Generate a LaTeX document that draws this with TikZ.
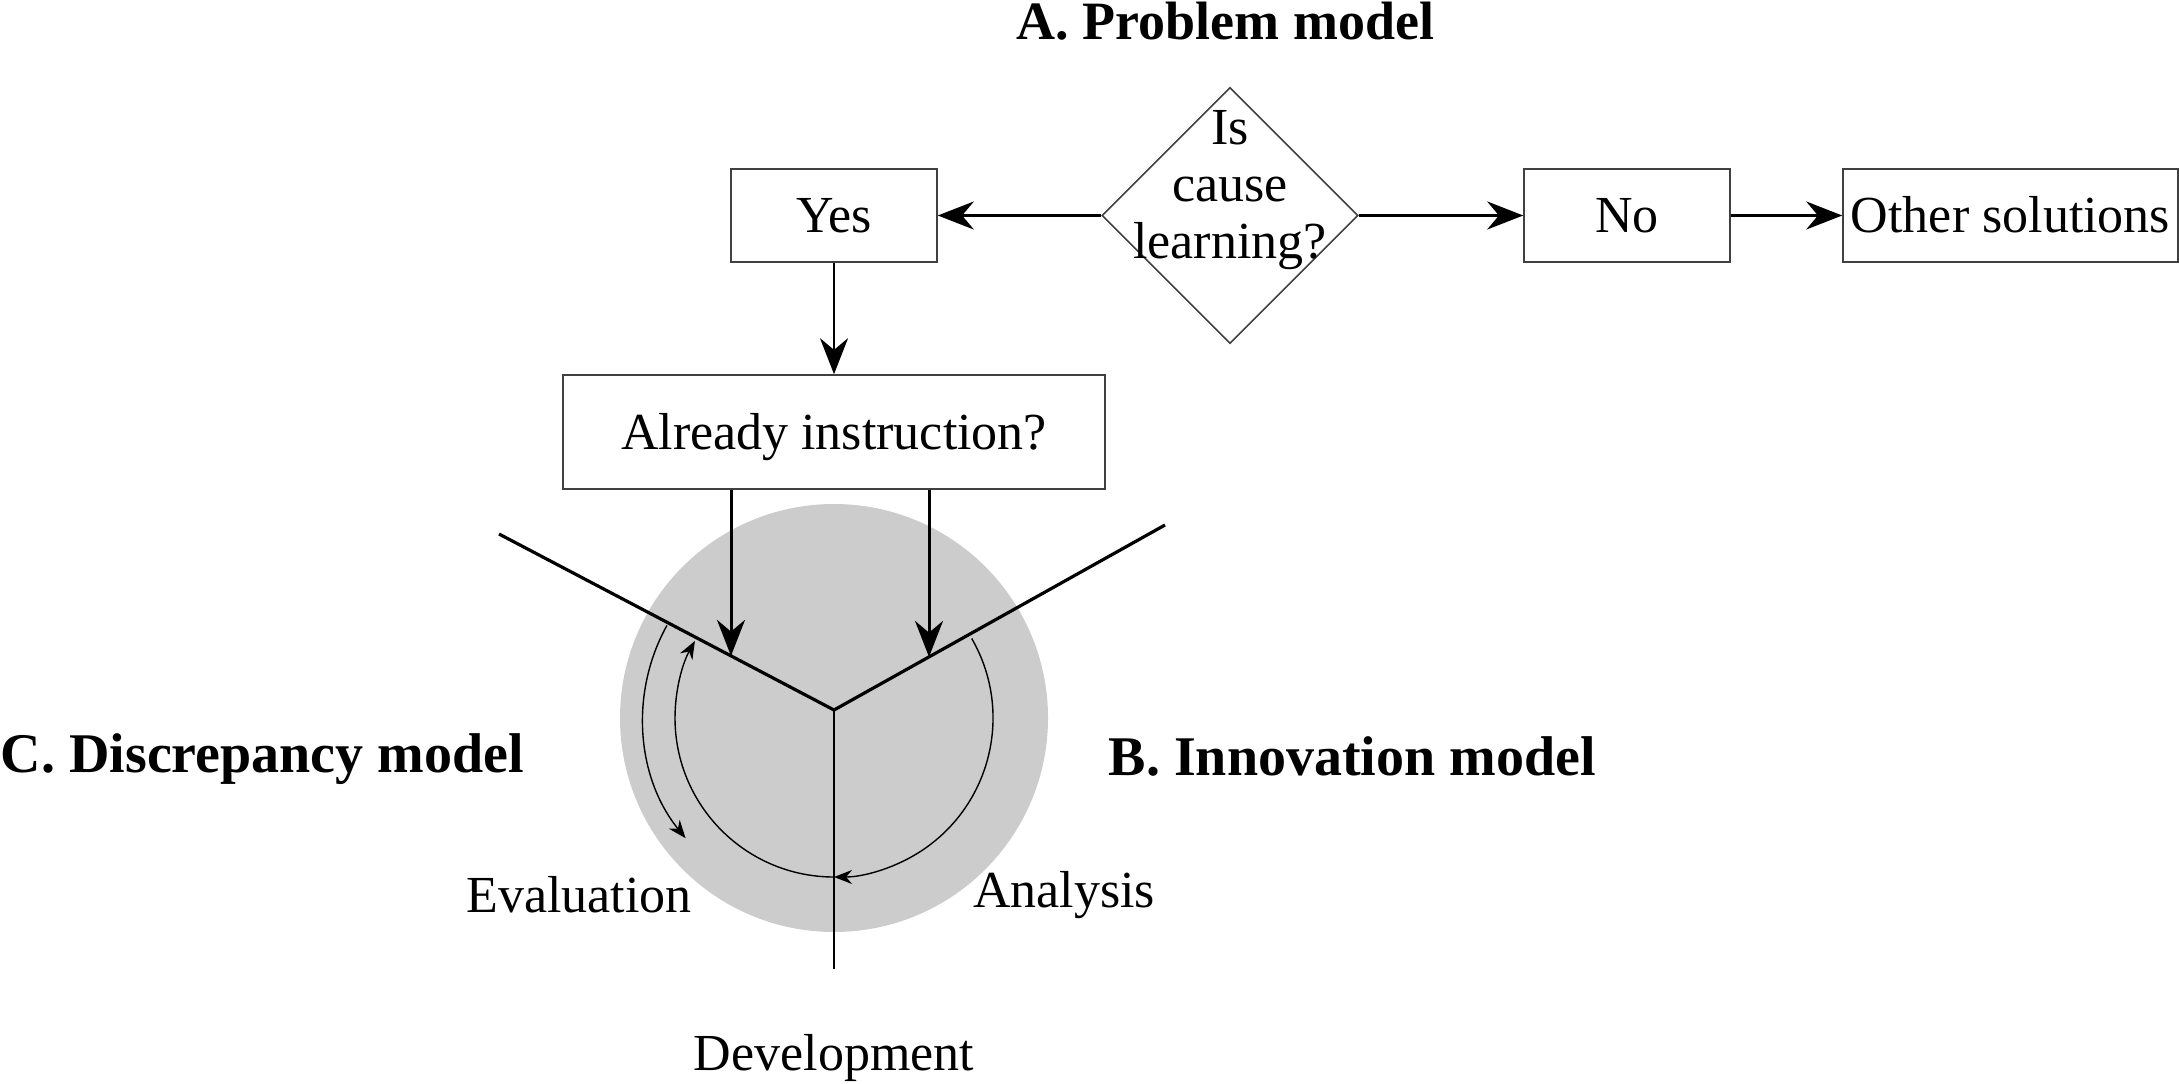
\documentclass[tikz,border=0pt]{standalone}
\usepackage{fontspec}
\setmainfont{Liberation Serif}
\usetikzlibrary{shapes.geometric,arrows.meta}

\begin{document}
\begin{tikzpicture}
[
x=0.25pt, y=0.25pt,
box/.style={draw=black!75, line width=0.4pt, minimum height=23.25pt, inner sep=0pt, text height=8.5pt, text depth=0pt, font=\fontsize{13}{15}\selectfont},
heading/.style={anchor=base west, inner sep=0pt, font=\fontsize{14}{16}\selectfont\bfseries},
phase/.style={anchor=base, inner sep=0pt, font=\fontsize{13}{15}\selectfont},
bigarrow/.style={-{Stealth[length=9pt, width=7pt]}, line width=0.75pt},
cyc/.style={-{Stealth[length=4.5pt, width=3.5pt]}, line width=0.35pt}
]
\tikzset{arm/.style={line width=0.8pt}}
\useasboundingbox (0,0) rectangle (2179,1083);

\node[heading, font=\fontsize{13.5}{16}\selectfont\bfseries] (titleA) at (1016,1043) {A. Problem model};
\node[diamond, draw=black!75, line width=0.4pt, minimum width=64pt, minimum height=64pt, inner sep=0pt] (cause) at (1230,867.5) {};
\node[align=center, inner sep=0pt, font=\fontsize{13}{14.3}\selectfont] (causetext) at (1230,893) {Is\\cause\\learning?};
\node[box, minimum width=51.5pt] (yes) at (834,867.5) {Yes};
\node[box, minimum width=51.5pt] (no) at (1627,867.5) {No};
\node[box, minimum width=83.75pt] (other) at (2010.5,867.5) {Other solutions};
\node[box, minimum width=135.5pt, minimum height=28.5pt] (already) at (834,651) {Already instruction?};

\fill[black!20] (834,365) coordinate (hub) circle[radius=214];
\coordinate (vtx) at (834,373);
\coordinate (armL) at (499,549);
\coordinate (armR) at (1165,558);
\coordinate (foot) at (834,114);
\draw[arm] (armL) -- coordinate[pos=0.6925] (hitL) (vtx) -- coordinate[pos=0.287] (hitR) (armR);
\draw[line width=0.6pt] (vtx) -- (foot);

\path[bigarrow]
(cause.west) edge (yes.east)
(cause.east) edge (no.west)
(no.east) edge (other.west)
(already.south -| hitL) edge (hitL)
(already.south -| hitR) edge (hitR);
\draw[bigarrow, line width=0.6pt] (yes.south) -- (already.north);

\draw[cyc] ([shift={(30:159)}]hub) arc[start angle=30, end angle=-90, radius=159];
\draw[cyc] ([shift={(-90:159)}]hub) arc[start angle=-90, end angle=-209, radius=159];
\draw[cyc] ([shift={(151:191)}]hub) arc[start angle=151, end angle=219, radius=191];

\node[heading] (titleC) at (0,311) {C. Discrepancy model};
\node[heading] (titleB) at (1108,308) {B. Innovation model};
\node[phase] (evaluation) at (579,171) {Evaluation};
\node[phase] (analysis) at (1064,176) {Analysis};
\node[phase] (development) at (834,13) {Development};
\end{tikzpicture}
\end{document}
